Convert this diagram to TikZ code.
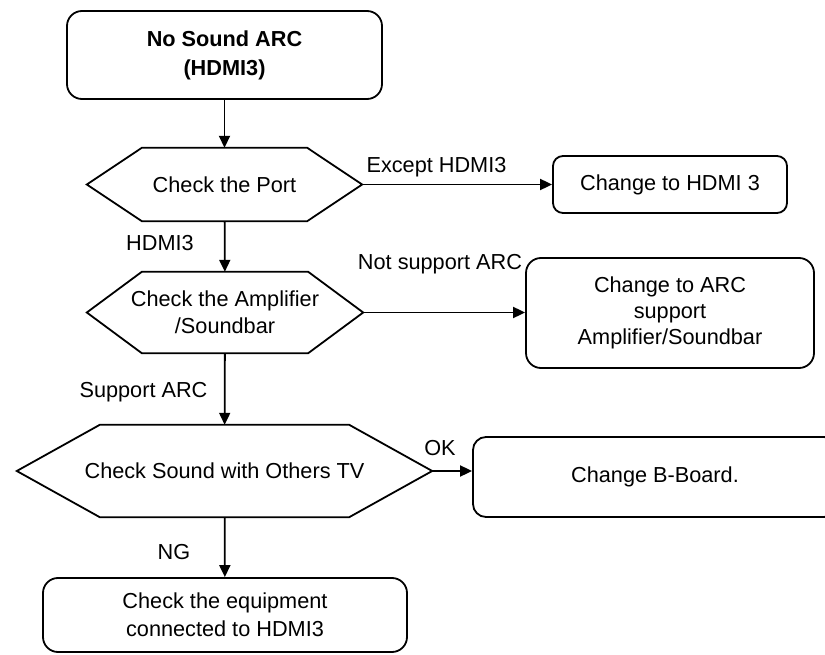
\documentclass[tikz,border=0pt]{standalone}
\usepackage{fontspec}
\setmainfont{Liberation Sans}
\usetikzlibrary{arrows.meta,calc}
\newcommand\hexdraw[2]{\draw[shapeline] (#1.west) -- ([xshift=#2]#1.north west) -- ([xshift=-#2]#1.north east) -- (#1.east) -- ([xshift=-#2]#1.south east) -- ([xshift=#2]#1.south west) -- cycle;}
\begin{document}
\begin{tikzpicture}[x=1pt,y=-1pt,
  every node/.style={font=\fontsize{21.7}{27}\selectfont, align=center, inner sep=0pt},
  shapeline/.style={line width=1.8pt, line join=miter},
  box/.style={draw, line width=1.8pt, rounded corners=#1},
  box/.default=13pt,
  hexnode/.style={draw=none},
  lbl/.style={},
  arr/.style={line width=1.8pt, -{Triangle[length=12pt,width=11pt]}}]
\fill[white] (0,0) rectangle (825,655);
\clip (0,0) rectangle (825,655);
\useasboundingbox (0,0) rectangle (825,655);

\node[box=15pt, minimum width=315pt, minimum height=88pt, font=\fontsize{21.7}{29}\selectfont\bfseries] (start) at (224.5,55) {No Sound ARC\\(HDMI3)};

\node[hexnode, minimum width=275pt, minimum height=73pt] (h1) at (224.5,184.5) {Check the Port};
\hexdraw{h1}{55pt}
\node[box=10pt, minimum width=234pt, minimum height=57pt] (b1) at (670,184.5) {Change to HDMI 3};

\node[hexnode, minimum width=276pt, minimum height=81pt, font=\fontsize{21.7}{27}\selectfont] (h2) at (225,312.5) {Check the Amplifier\\/Soundbar};
\hexdraw{h2}{55pt}
\node[box=15pt, minimum width=288pt, minimum height=110pt, font=\fontsize{21.7}{26}\selectfont] (b2) at (670,313) {Change to ARC\\support\\Amplifier/Soundbar};

\node[hexnode, minimum width=415pt, minimum height=92pt] (h3) at (224.5,471) {Check Sound with Others TV};
\hexdraw{h3}{83pt}
\node[box=13pt, minimum width=364pt, minimum height=80pt] (b3) at (655,477) {Change B-Board.};

\node[box=15pt, minimum width=364pt, minimum height=74pt, font=\fontsize{21.7}{28}\selectfont] (end) at (225,615) {Check the equipment\\connected to HDMI3};

\draw[arr] (start) -- (h1);
\draw[arr] (h1.east) -- (h1.east -| b1.west);
\draw[arr] (h1) -- (h2);
\draw[arr] (h2.east) -- (h2.east -| b2.west);
\draw[arr] (h2) -- (h3);
\draw[arr] (h3.east) -- (h3.east -| b3.west);
\draw[arr] (h3) -- (end);

\node[lbl] (l1) at (436.5,167) {Except HDMI3};
\node[lbl] (l2) at (160,243) {HDMI3};
\node[lbl] (l3) at (440,264) {Not support ARC};
\node[lbl] (l4) at (143.5,392) {Support ARC};
\node[lbl] (l5) at (440,448) {OK};
\node[lbl] (l6) at (174,552) {NG};
\end{tikzpicture}
\end{document}
